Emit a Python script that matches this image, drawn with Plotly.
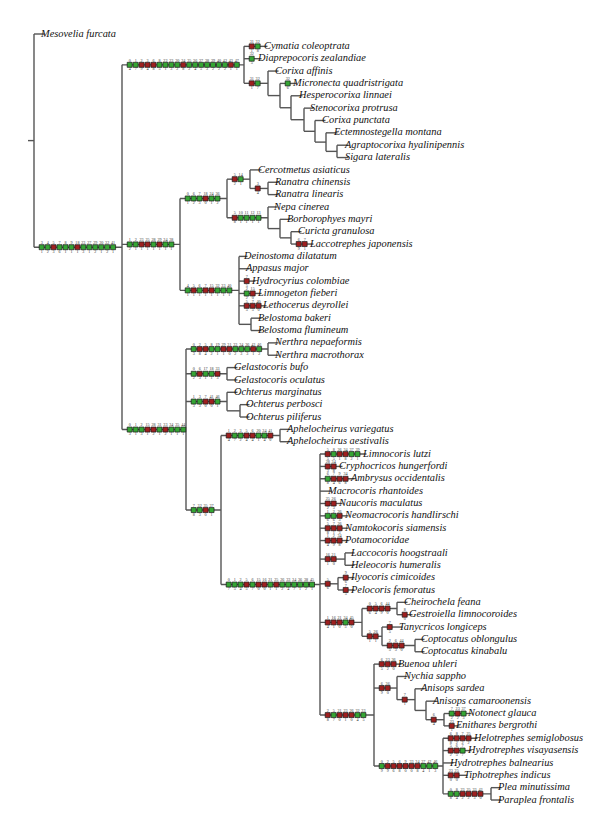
import plotly.graph_objects as go

# ---------------- data ----------------
leaf_names = [
    "Mesovelia furcata", "Cymatia coleoptrata", "Diaprepocoris zealandiae", "Corixa affinis",
    "Micronecta quadristrigata", "Hesperocorixa linnaei", "Stenocorixa protrusa", "Corixa punctata",
    "Ectemnostegella montana", "Agraptocorixa hyalinipennis", "Sigara lateralis", "Cercotmetus asiaticus",
    "Ranatra chinensis", "Ranatra linearis", "Nepa cinerea", "Borborophyes mayri", "Curicta granulosa",
    "Laccotrephes japonensis", "Deinostoma dilatatum", "Appasus major", "Hydrocyrius colombiae",
    "Limnogeton fieberi", "Lethocerus deyrollei", "Belostoma bakeri", "Belostoma flumineum",
    "Nerthra nepaeformis", "Nerthra macrothorax", "Gelastocoris bufo", "Gelastocoris oculatus",
    "Ochterus marginatus", "Ochterus perbosci", "Ochterus piliferus", "Aphelocheirus variegatus",
    "Aphelocheirus aestivalis", "Limnocoris lutzi", "Cryphocricos hungerfordi", "Ambrysus occidentalis",
    "Macrocoris rhantoides", "Naucoris maculatus", "Neomacrocoris handlirschi", "Namtokocoris siamensis",
    "Potamocoridae", "Laccocoris hoogstraali", "Heleocoris humeralis", "Ilyocoris cimicoides",
    "Pelocoris femoratus", "Cheirochela feana", "Gestroiella limnocoroides", "Tanycricos longiceps",
    "Coptocatus oblongulus", "Coptocatus kinabalu", "Buenoa uhleri", "Nychia sappho", "Anisops sardea",
    "Anisops camaroonensis", "Notonect glauca", "Enithares bergrothi", "Helotrephes semiglobosus",
    "Hydrotrephes visayasensis", "Hydrotrephes balnearius", "Tiphotrephes indicus", "Plea minutissima",
    "Paraplea frontalis",
]
leaf_parent = [
    "root", "corixoidea", "corixoidea", "corixidae", "cx2", "cx3", "cx4", "cx5", "cx6", "cx7", "cx7",
    "ranatrinae", "ranatra", "ranatra", "nepinae", "np2", "np3", "np3",
    "belostomatidae", "belostomatidae", "belostomatidae", "belostomatidae", "belostomatidae",
    "belostoma", "belostoma", "nerthra", "nerthra", "gelastocoris", "gelastocoris",
    "ochterus", "och2", "och2", "aphelocheirus", "aphelocheirus",
    "naucoridae", "naucoridae", "naucoridae", "naucoridae", "naucoridae", "naucoridae", "naucoridae",
    "naucoridae", "laccocoris", "laccocoris", "ilyocoris", "ilyocoris", "cheiro2", "cheiro2",
    "tany", "copto", "copto", "notopleo", "nychia", "an1", "an2", "an3", "an3",
    "pleoidea", "pleoidea", "pleoidea", "pleoidea", "plea", "plea",
]
# depth (horizontal position) at which each leaf branch ends / its label begins
leaf_depth = [
    40, 263, 257, 274, 292, 298, 309, 321, 333, 344, 344, 257, 274, 274, 273, 286, 297, 309,
    243, 245, 251, 257, 262, 257, 257, 274, 274, 233, 233, 233, 245, 245, 286, 286,
    362, 338, 350, 327, 338, 344, 344, 344, 350, 350, 350, 350, 403, 408, 398, 420, 420,
    397, 403, 420, 432, 467, 455, 473, 467, 449, 463, 497, 497,
]
node_ids = ["root", "ingroup", "corixoidea", "corixidae", "cx2", "cx3", "cx4", "cx5", "cx6", "cx7",
            "nepoidea", "nepidae", "ranatrinae", "ranatra", "nepinae", "np2", "np3",
            "belostomatidae", "belostoma", "rest", "nerthra", "gelastocoris", "ochterus", "och2",
            "naucnot", "aphelocheirus", "naucoridae", "laccocoris", "ilyocoris", "cheiro", "cheiro2",
            "tany", "copto", "notopleo", "nychia", "an1", "an2", "an3", "pleoidea", "plea"]
node_parent = [None, "root", "ingroup", "corixoidea", "corixidae", "cx2", "cx3", "cx4", "cx5", "cx6",
               "ingroup", "nepoidea", "nepidae", "ranatrinae", "nepidae", "nepinae", "np2",
               "nepoidea", "belostomatidae", "ingroup", "rest", "rest", "rest", "ochterus",
               "rest", "naucnot", "naucnot", "naucoridae", "naucoridae", "naucoridae", "cheiro",
               "cheiro", "tany", "naucoridae", "notopleo", "nychia", "an1", "an2", "notopleo", "pleoidea"]
node_depth = [26, 114, 236, 260, 272, 283, 296, 307, 318, 329,
              172, 219, 242, 260, 260, 272, 283,
              231, 243, 178, 260, 219, 219, 232,
              213, 272, 312, 337, 330, 354, 389,
              374, 407, 366, 389, 407, 418, 436, 435, 483]

# character-state changes mapped on branches (branch = child node or leaf)
mark_branch = [
    "ingroup", "corixoidea", "Cymatia coleoptrata", "Diaprepocoris zealandiae", "corixidae",
    "Micronecta quadristrigata", "nepoidea", "nepidae", "ranatrinae", "ranatra", "nepinae",
    "Laccotrephes japonensis", "belostomatidae", "Hydrocyrius colombiae", "Limnogeton fieberi",
    "Lethocerus deyrollei", "rest", "nerthra", "gelastocoris", "ochterus", "naucnot", "aphelocheirus",
    "naucoridae", "Limnocoris lutzi", "Cryphocricos hungerfordi", "Ambrysus occidentalis",
    "Naucoris maculatus", "Neomacrocoris handlirschi", "Namtokocoris siamensis", "Potamocoridae",
    "laccocoris", "ilyocoris", "Ilyocoris cimicoides", "Pelocoris femoratus", "cheiro", "cheiro2",
    "Gestroiella limnocoroides", "tany", "Tanycricos longiceps", "copto", "notopleo", "Buenoa uhleri",
    "nychia", "an1", "an3", "Notonect glauca", "Enithares bergrothi", "pleoidea",
    "Helotrephes semiglobosus", "Hydrotrephes visayasensis", "Tiphotrephes indicus", "plea",
]
mark_chars = [
    [3, 4, 5, 7, 8, 9, 18, 23, 27, 29, 30, 32, 41],
    [0, 1, 2, 3, 6, 8, 22, 23, 30, 34, 35, 36, 37, 38, 39, 40, 42, 43, 47],
    [31, 32], [32], [31, 32], [32],
    [1, 2, 23, 25, 28, 29, 34, 38],
    [0, 6, 7, 18, 24, 36], [5, 14], [3], [5, 10, 11, 12, 13], [6, 7],
    [4, 5, 6, 7, 15, 32, 33, 40], [7], [2, 15], [5, 7, 40],
    [0, 1, 2, 15, 28, 31, 33, 34, 35, 44],
    [0, 2, 5, 8, 19, 29, 31, 33, 34, 36, 43, 46],
    [0, 6, 17, 18, 33], [1, 3, 7, 41, 46], [7, 32, 35, 37],
    [1, 2, 3, 5, 6, 20, 34, 41],
    [0, 1, 2, 5, 6, 15, 16, 21, 25, 26, 33, 34, 36, 38, 45],
    [5, 8, 26, 34, 37, 39], [28, 34], [6, 7, 9, 34], [25, 26], [1, 2, 26], [5, 7, 26], [1, 2, 34],
    [16, 21], [5], [9], [7], [1, 16, 21, 34, 45], [0, 5, 6, 44], [8], [5, 26], [7], [2, 6, 44],
    [2, 5, 21, 23, 26, 32, 33], [6, 23, 36], [6, 36], [7], [6], [7, 23, 37], [23],
    [0, 2, 5, 6, 9, 33, 34, 37, 42, 46], [6, 8, 7, 25], [5, 6, 7], [23, 25], [0, 8, 23, 25, 33, 42],
]
mark_states = [
    [1, 2, 3, 6, 1, 1, 1, 3, 1, 2, 1, 2, 1],
    [4, 7, 9, 4, 8, 5, 1, 3, 2, 8, 2, 4, 5, 3, 2, 2, 2, 1, 1],
    [1, 8], [5], [1, 7], [6],
    [2, 1, 1, 1, 1, 1, 1, 1],
    [1, 2, 3, 0, 1, 2], [2, 1], [4], [8, 1, 1, 1, 1], [9, 1],
    [1, 1, 1, 1, 1, 1, 1, 1], [5], [2, 0], [5, 5, 0],
    [3, 1, 3, 1, 2, 1, 2, 1, 1, 1],
    [3, 8, 4, 2, 1, 1, 0, 2, 3, 3, 1, 2],
    [2, 3, 1, 1, 3], [3, 3, 0, 0, 1], [8, 3, 0, 1],
    [4, 7, 2, 4, 4, 1, 4, 0],
    [7, 5, 4, 5, 7, 0, 0, 1, 1, 2, 4, 7, 1, 2, 1],
    [5, 5, 1, 8, 2, 1], [3, 8], [8, 4, 6, 8], [2, 3], [6, 6, 3], [8, 1, 3], [4, 9, 8],
    [1, 0], [6], [6], [5], [4, 1, 0, 5, 0], [6, 4, 9, 0], [0], [1, 1], [5], [5, 3, 0],
    [8, 7, 0, 1, 0, 4, 5], [5, 2, 0], [9, 0], [1], [4], [2, 2, 3], [1],
    [9, 9, 6, 8, 0, 0, 8, 4, 1, 3], [8, 2, 2, 2], [2, 5, 7], [0, 0], [8, 4, 2, 2, 3, 0],
]
# g = non-homoplastic change (green), r = homoplastic change (red)
mark_kinds = [
    "ggrgggrgggggg", "ggrrrggggrgggggggrg", "rg", "g", "rg", "g",
    "ggrrgrgg", "gggrgg", "rg", "r", "rgggg", "rr",
    "grgrrggg", "r", "gr", "rrr", "gggrrgrggg", "grrggrrgggrg",
    "grggr", "ggrrg", "ggrg", "rggrrggr", "gggrgrrgrgggggg",
    "rgrrgg", "rr", "grrr", "rr", "ggr", "rrr", "rrr",
    "rr", "r", "r", "r", "rrrgr", "rrrr", "r", "rr", "r", "rrr",
    "rgrrrgg", "rrr", "rr", "r", "r", "grg", "r",
    "grrrrrrggg", "rrrr", "rrg", "rr", "ggrrrr",
]

# ---------------- layout helpers ----------------
ROW = 12.355      # px per leaf row
TOP = 26          # px of first leaf
W, H = 600, 820
LINE_C = "#555555"
GREEN = "#35a534"
RED = "#9e1f1f"

parent = dict(zip(node_ids, node_parent))
parent.update(dict(zip(leaf_names, leaf_parent)))
xpos = dict(zip(node_ids, node_depth))
label_x = {}
for nm, d in zip(leaf_names, leaf_depth):
    xpos[nm] = d - 3.5
    label_x[nm] = d - 7.0

children = {n: [] for n in node_ids}
for nm, p in zip(leaf_names, leaf_parent):
    children[p].append(nm)
for n, p in zip(node_ids, node_parent):
    if p is not None:
        children[p].append(n)

leaf_index = {nm: i for i, nm in enumerate(leaf_names)}
ycache = {}


def ypos(n):
    if n in leaf_index:
        return leaf_index[n]
    if n not in ycache:
        ys = [ypos(c) for c in children[n]]
        ycache[n] = (min(ys) + max(ys)) / 2
    return ycache[n]


lx, ly = [], []
# root stub
lx += [xpos["root"] - 6, xpos["root"], None]
ly += [ypos("root"), ypos("root"), None]
for n in node_ids:
    ys = [ypos(c) for c in children[n]]
    lx += [xpos[n], xpos[n], None]
    ly += [min(ys), max(ys), None]
for n in list(node_ids[1:]) + leaf_names:
    p = parent[n]
    lx += [xpos[p], xpos[n], None]
    ly += [ypos(n), ypos(n), None]

fig = go.Figure()
fig.add_trace(go.Scatter(x=lx, y=ly, mode="lines", line=dict(color=LINE_C, width=1.4),
                         hoverinfo="skip", showlegend=False))

gx, gy, rx, ry = [], [], [], []
tx, ty, tt, bx, by, bt = [], [], [], [], [], []
for b, chs, sts, kinds in zip(mark_branch, mark_chars, mark_states, mark_kinds):
    px = xpos[parent[b]]
    yb = ypos(b)
    for k, (c, s, kd) in enumerate(zip(chs, sts, kinds)):
        mx = px + 7.7 + k * 5.95
        if kd == "g":
            gx.append(mx); gy.append(yb)
        else:
            rx.append(mx); ry.append(yb)
        tx.append(mx); ty.append(yb - 4.3 / ROW); tt.append(str(c))
        bx.append(mx); by.append(yb + 4.5 / ROW); bt.append(str(s))

fig.add_trace(go.Scatter(x=gx, y=gy, mode="markers", hoverinfo="skip", showlegend=False,
                         marker=dict(symbol="square", size=5, color=GREEN,
                                     line=dict(color="#1a1a1a", width=0.7))))
fig.add_trace(go.Scatter(x=rx, y=ry, mode="markers", hoverinfo="skip", showlegend=False,
                         marker=dict(symbol="square", size=5, color=RED,
                                     line=dict(color="#1a1a1a", width=0.7))))
num_font = dict(family="Liberation Serif", size=4.1, color="#333333")
fig.add_trace(go.Scatter(x=tx, y=ty, text=tt, mode="text", textposition="middle center",
                         textfont=num_font, hoverinfo="skip", showlegend=False))
fig.add_trace(go.Scatter(x=bx, y=by, text=bt, mode="text", textposition="middle center",
                         textfont=num_font, hoverinfo="skip", showlegend=False))

fig.add_trace(go.Scatter(
    x=[label_x[nm] for nm in leaf_names], y=[leaf_index[nm] for nm in leaf_names],
    text=["<i>" + nm + "</i>" for nm in leaf_names], mode="text", textposition="middle right",
    textfont=dict(family="Liberation Serif", size=10.4, color="#111111"),
    hoverinfo="skip", showlegend=False))

fig.update_layout(
    width=W, height=H, margin=dict(l=0, r=0, t=0, b=0),
    paper_bgcolor="white", plot_bgcolor="white",
    xaxis=dict(range=[0, W], visible=False, fixedrange=True),
    yaxis=dict(range=[(H - TOP) / ROW, -TOP / ROW], visible=False, fixedrange=True),
)
fig.write_html("out.html")
